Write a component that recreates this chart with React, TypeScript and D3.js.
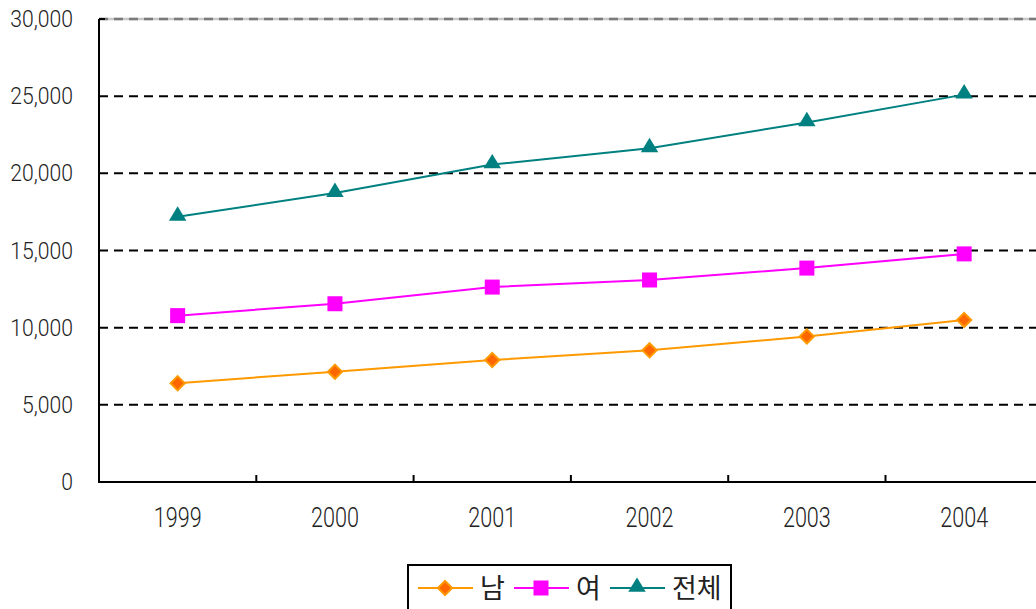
import React from "react";
import * as d3 from "d3";

const years = ["1999", "2000", "2001", "2002", "2003", "2004"];
const male = [6400, 7150, 7900, 8530, 9430, 10500];
const female = [10780, 11550, 12630, 13090, 13860, 14780];
const total = [17180, 18720, 20570, 21620, 23300, 25100];
const yTicks = [0, 5000, 10000, 15000, 20000, 25000, 30000];
const seriesNames = ["남", "여", "전체"];

const W = 1036;
const H = 609;
const left = 99;
const top = 19;
const bottom = 482;
const step = 157.3;

export default function App() {
  const x = d3.scaleBand<string>().domain(years).range([left, left + step * years.length]).padding(0);
  const y = d3.scaleLinear().domain([0, 30000]).range([bottom, top]);
  const cx = (yr: string) => (x(yr) as number) + x.bandwidth() / 2;
  const line = d3
    .line<number>()
    .x((_, i) => cx(years[i]))
    .y((v) => y(v));

  const fmt = d3.format(",");
  const triangle = d3.symbol().type(d3.symbolTriangle).size(120)() as string;

  const series = [
    { name: seriesNames[0], values: male, color: "#FF9900", kind: "diamond" },
    { name: seriesNames[1], values: female, color: "#FF00FF", kind: "square" },
    { name: seriesNames[2], values: total, color: "#008080", kind: "triangle" },
  ];

  const marker = (kind: string, color: string, px: number, py: number, key: string) => {
    if (kind === "diamond")
      return (
        <rect
          key={key}
          x={px - 5}
          y={py - 5}
          width={10}
          height={10}
          fill="#FF6600"
          stroke="#FF9900"
          strokeWidth={2}
          transform={`rotate(45 ${px} ${py})`}
        />
      );
    if (kind === "square")
      return <rect key={key} x={px - 7.5} y={py - 7.5} width={15} height={15} fill="#FF00FF" />;
    return <path key={key} d={triangle} transform={`translate(${px},${py - 1}) scale(1.05,1)`} fill="#008080" />;
  };

  const legendItems = [
    { x0: 418, tx: 480 },
    { x0: 514, tx: 576 },
    { x0: 610, tx: 672 },
  ];

  const numFont = "Roboto, 'Liberation Sans', Arial, sans-serif";

  return (
    <svg
      width={W}
      height={H}
      style={{ position: "absolute", left: 0, top: 0, background: "#fff" }}
      fontFamily={numFont}
    >
      <rect x={0} y={0} width={W} height={H} fill="#fff" />
      {yTicks
        .filter((t) => t > 0 && t < 30000)
        .map((t) => (
          <line
            key={t}
            x1={left}
            x2={W}
            y1={y(t)}
            y2={y(t)}
            stroke="#000"
            strokeWidth={2}
            strokeDasharray="9,6"
          />
        ))}
      <line x1={left} x2={W} y1={y(30000)} y2={y(30000)} stroke="#c8c8c8" strokeWidth={2.5} />
      <line x1={left} x2={W} y1={y(30000)} y2={y(30000)} stroke="#7a7a7a" strokeWidth={2.5} strokeDasharray="9,6" />
      <line x1={left} x2={left + 6} y1={y(30000)} y2={y(30000)} stroke="#000" strokeWidth={2} />
      <line x1={left} x2={left} y1={top} y2={bottom + 1} stroke="#000" strokeWidth={2} />
      <line x1={left - 1} x2={W} y1={bottom} y2={bottom} stroke="#000" strokeWidth={2} />
      {years.slice(1).map((yr) => (
        <line key={yr} x1={x(yr) as number} x2={x(yr) as number} y1={bottom} y2={bottom - 7} stroke="#000" strokeWidth={2} />
      ))}
      {yTicks.map((t) => (
        <text
          key={t}
          transform={`translate(73,${y(t) + 8}) scale(0.92,1)`}
          textAnchor="end"
          fontSize={23}
          fontWeight={300}
          fill="#222"
        >
          {fmt(t)}
        </text>
      ))}
      {years.map((yr) => (
        <text
          key={yr}
          transform={`translate(${cx(yr)},527) scale(0.8,1)`}
          textAnchor="middle"
          fontSize={27}
          fontWeight={300}
          fill="#222"
        >
          {yr}
        </text>
      ))}
      {series.map((s) => (
        <g key={s.name}>
          <path d={line(s.values) as string} fill="none" stroke={s.color} strokeWidth={2} />
          {s.values.map((v, i) => marker(s.kind, s.color, cx(years[i]), y(v), s.name + i))}
        </g>
      ))}
      <rect x={408} y={565} width={323} height={60} fill="#fff" stroke="#000" strokeWidth={2} />
      {series.map((s, i) => {
        const it = legendItems[i];
        return (
          <g key={s.name}>
            <line x1={it.x0} x2={it.x0 + 55} y1={588} y2={588} stroke={s.color} strokeWidth={2} />
            {marker(s.kind, s.color, it.x0 + 27, 588, "lg" + i)}
            <text
              x={it.tx}
              y={598}
              fontSize={27}
              fill="#222"
              fontFamily="'Noto Sans CJK KR', sans-serif"
            >
              {s.name}
            </text>
          </g>
        );
      })}
    </svg>
  );
}
